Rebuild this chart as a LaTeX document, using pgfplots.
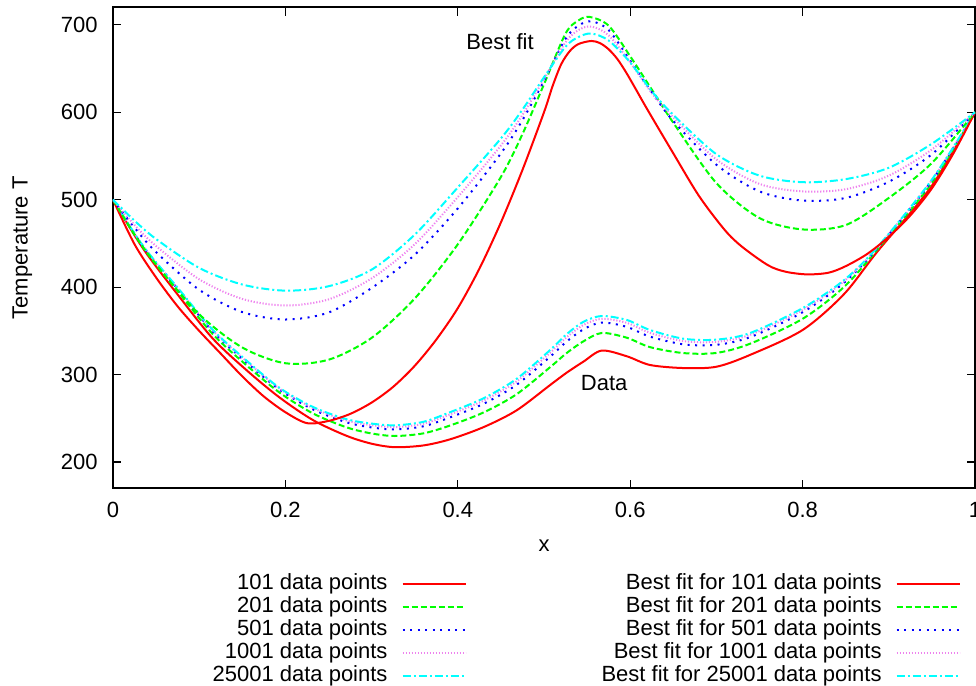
\documentclass[border=0pt]{standalone}
\usepackage{fontspec}
\setmainfont{Liberation Sans}
\usepackage{pgfplots}
\pgfplotsset{compat=1.18}
\definecolor{gpred}{RGB}{255,0,0}
\definecolor{gpgreen}{RGB}{0,255,0}
\definecolor{gpblue}{RGB}{0,0,255}
\definecolor{gpviolet}{RGB}{238,130,238}
\definecolor{gpcyan}{RGB}{0,255,255}
\pgfplotsset{
  s101/.style={gpred,line width=1pt,solid},
  s201/.style={gpgreen,line width=1pt,dash pattern=on 3pt off 1.5pt},
  s501/.style={gpblue,line width=1pt,dash pattern=on 1pt off 2.75pt},
  s1001/.style={gpviolet,line width=1pt,dash pattern=on 0.6pt off 0.9pt},
  s25001/.style={gpcyan,line width=1pt,dash pattern=on 4pt off 1.5pt on 1pt off 1.5pt},
}
\begin{document}
\fontsize{11}{13}\selectfont
\begin{tikzpicture}
\begin{axis}[
  scale only axis,width=431pt,height=240.5pt,
  xmin=0,xmax=1,ymin=170,ymax=720,
  xtick={0,0.2,0.4,0.6,0.8,1},ytick={200,300,400,500,600,700},
  tick align=inside,tick pos=both,major tick length=4.15pt,
  every tick/.style={black,line width=0.6pt},
  axis line style={line width=0.9pt},
  /pgf/number format/assume math mode=true,
  xticklabel style={yshift=-3.3pt},
  yticklabel style={xshift=-3.8pt},
  xlabel={x},ylabel={Temperature T},
  xlabel style={at={(axis description cs:0.5,0)},anchor=center,yshift=-28.5pt},
  ylabel style={at={(axis description cs:-0.1051,0.5)},anchor=center},
  legend columns=2,legend cell align=right,legend plot pos=right,
  legend image code/.code={\draw[#1] (0pt,0pt) -- (31.5pt,0pt);},
  legend style={draw=none,fill=none,inner sep=0pt,
    at={(axis description cs:0.98376,-0.1769)},anchor=north east,
    nodes={inner sep=0pt,text height=7.75pt,text depth=2.25pt},
    row sep=1.5pt,
    /tikz/every odd column/.append style={column sep=7pt},
    /tikz/every even column/.append style={column sep=67.5pt}},
]
% legend, filled row by row
\addlegendimage{s101}\addlegendentry{101 data points}
\addlegendimage{s101}\addlegendentry{Best fit for 101 data points}
\addlegendimage{s201}\addlegendentry{201 data points}
\addlegendimage{s201}\addlegendentry{Best fit for 201 data points}
\addlegendimage{s501}\addlegendentry{501 data points}
\addlegendimage{s501}\addlegendentry{Best fit for 501 data points}
\addlegendimage{s1001}\addlegendentry{1001 data points}
\addlegendimage{s1001}\addlegendentry{Best fit for 1001 data points}
\addlegendimage{s25001}\addlegendentry{25001 data points}
\addlegendimage{s25001}\addlegendentry{Best fit for 25001 data points}

% data
\addplot[s101,smooth,forget plot] coordinates {(0,500)(0.035,444)(0.077,389)(0.116,341)(0.155,305)(0.193,274)(0.232,248)(0.271,230)(0.3,221)(0.327,217)(0.36,219)(0.391,226)(0.43,240)(0.468,259)(0.507,288)(0.526,302)(0.546,315)(0.567,327.5)(0.596,321)(0.623,311)(0.662,307.5)(0.7,309)(0.739,322.5)(0.8,351)(0.848,392)(0.887,441)(0.95,516)(1,600)};
\addplot[s201,smooth,forget plot] coordinates {(0,500)(0.035,445.5)(0.077,393)(0.116,346)(0.155,310.6)(0.193,279.6)(0.232,255.6)(0.271,239.7)(0.3,232.7)(0.327,229.8)(0.36,232.8)(0.391,241.8)(0.43,256.8)(0.468,277.4)(0.507,308.4)(0.526,324.4)(0.546,338.2)(0.567,347.6)(0.596,342.2)(0.623,331.4)(0.662,324.6)(0.7,324.8)(0.739,335.3)(0.8,363.8)(0.848,400.2)(0.887,443.5)(0.95,519.6)(1,600)};
\addplot[s501,smooth,forget plot] coordinates {(0,500)(0.035,446.4)(0.077,395.5)(0.116,349)(0.155,313.9)(0.193,282.9)(0.232,260.2)(0.271,245.4)(0.3,239.6)(0.327,237.3)(0.36,240.9)(0.391,251.1)(0.43,266.7)(0.468,288.2)(0.507,320.4)(0.526,337.6)(0.546,351.9)(0.567,359.5)(0.596,354.6)(0.623,343.4)(0.662,334.6)(0.7,334.1)(0.739,342.8)(0.8,371.3)(0.848,405)(0.887,445)(0.95,521.7)(1,600)};
\addplot[s1001,smooth,forget plot] coordinates {(0,500)(0.035,446.8)(0.077,396.4)(0.116,350.2)(0.155,315.1)(0.193,284.1)(0.232,261.8)(0.271,247.5)(0.3,242.2)(0.327,240)(0.36,243.8)(0.391,254.5)(0.43,270.4)(0.468,292.1)(0.507,324.8)(0.526,342.5)(0.546,356.9)(0.567,363.8)(0.596,359.2)(0.623,347.8)(0.662,338.3)(0.7,337.5)(0.739,345.5)(0.8,374)(0.848,406.7)(0.887,445.6)(0.95,522.4)(1,600)};
\addplot[s25001,smooth,forget plot] coordinates {(0,500)(0.035,447)(0.077,397)(0.116,351)(0.155,316)(0.193,285)(0.232,263)(0.271,249)(0.3,244)(0.327,242)(0.36,246)(0.391,257)(0.43,273)(0.468,295)(0.507,328)(0.526,346)(0.546,360.5)(0.567,367)(0.596,362.5)(0.623,351)(0.662,341)(0.7,340)(0.739,347.5)(0.8,376)(0.848,408)(0.887,446)(0.95,523)(1,600)};

% best fits
\addplot[s101,smooth,forget plot] coordinates {(0,500)(0.025,449)(0.05,411)(0.075,378)(0.1,350)(0.125,324)(0.15,298)(0.175,275)(0.2,257)(0.225,244.5)(0.25,247)(0.275,255)(0.3,268)(0.325,286)(0.35,310)(0.375,340)(0.4,376)(0.425,421)(0.45,474)(0.475,534)(0.5,600)(0.51,630)(0.52,655)(0.53,670)(0.54,678)(0.555,681.5)(0.565,679)(0.575,672)(0.585,661)(0.595,646)(0.605,629)(0.62,603)(0.65,553)(0.68,504)(0.71,465)(0.73,446)(0.76,425)(0.78,417.7)(0.805,414.6)(0.83,416.5)(0.85,424)(0.875,438)(0.9,457.6)(0.925,482)(0.95,513)(0.975,553)(1,600)};
\addplot[s201,smooth,forget plot] coordinates {(0,500)(0.025,460)(0.05,426)(0.1,369)(0.15,331)(0.2,313)(0.25,317)(0.3,342)(0.35,387)(0.4,449)(0.45,526)(0.475,575)(0.5,632)(0.525,690)(0.54,705)(0.553,709)(0.575,699)(0.6,664)(0.625,626)(0.65,588)(0.7,519)(0.75,479)(0.8,466)(0.85,471)(0.9,502)(0.95,542)(1,600)};
\addplot[s501,smooth,forget plot] coordinates {(0,500)(0.025,468)(0.05,440)(0.1,397)(0.15,371.5)(0.2,363)(0.25,371)(0.3,399)(0.35,437)(0.4,490)(0.45,553)(0.475,591)(0.5,636)(0.525,684)(0.54,699)(0.555,704)(0.575,694)(0.6,659)(0.625,623)(0.65,590)(0.7,540)(0.75,509.5)(0.8,499)(0.85,502)(0.9,520.5)(0.95,552)(1,600)};
\addplot[s1001,smooth,forget plot] coordinates {(0,500)(0.025,471)(0.05,447)(0.1,409)(0.15,386.5)(0.2,379)(0.25,386)(0.3,410)(0.35,449)(0.4,503)(0.45,562)(0.475,597)(0.5,638)(0.525,680)(0.54,694)(0.555,698)(0.575,688)(0.6,657)(0.625,622)(0.65,594)(0.7,546)(0.75,518)(0.8,509.5)(0.85,512)(0.9,527.5)(0.95,557.5)(1,600)};
\addplot[s25001,smooth,forget plot] coordinates {(0,500)(0.025,476)(0.05,455)(0.1,422)(0.15,403)(0.2,396)(0.25,401)(0.3,420)(0.35,460)(0.4,514)(0.45,570)(0.475,603)(0.5,640)(0.525,675)(0.54,686)(0.555,690)(0.575,682)(0.6,657)(0.625,624)(0.65,597)(0.7,552)(0.75,527.5)(0.8,520)(0.85,523.5)(0.9,536.5)(0.95,564)(1,600)};

\node at (axis cs:0.449,680.7) {Best fit};
\node at (axis cs:0.5698,290.2) {Data};
\coordinate (sw) at (rel axis cs:0,0);
\coordinate (ne) at (rel axis cs:1,1);
\end{axis}
\pgfresetboundingbox
\path ([xshift=-56.5pt,yshift=-98.85pt]sw) rectangle ([xshift=0.5pt,yshift=3.65pt]ne);
\end{tikzpicture}
\end{document}
